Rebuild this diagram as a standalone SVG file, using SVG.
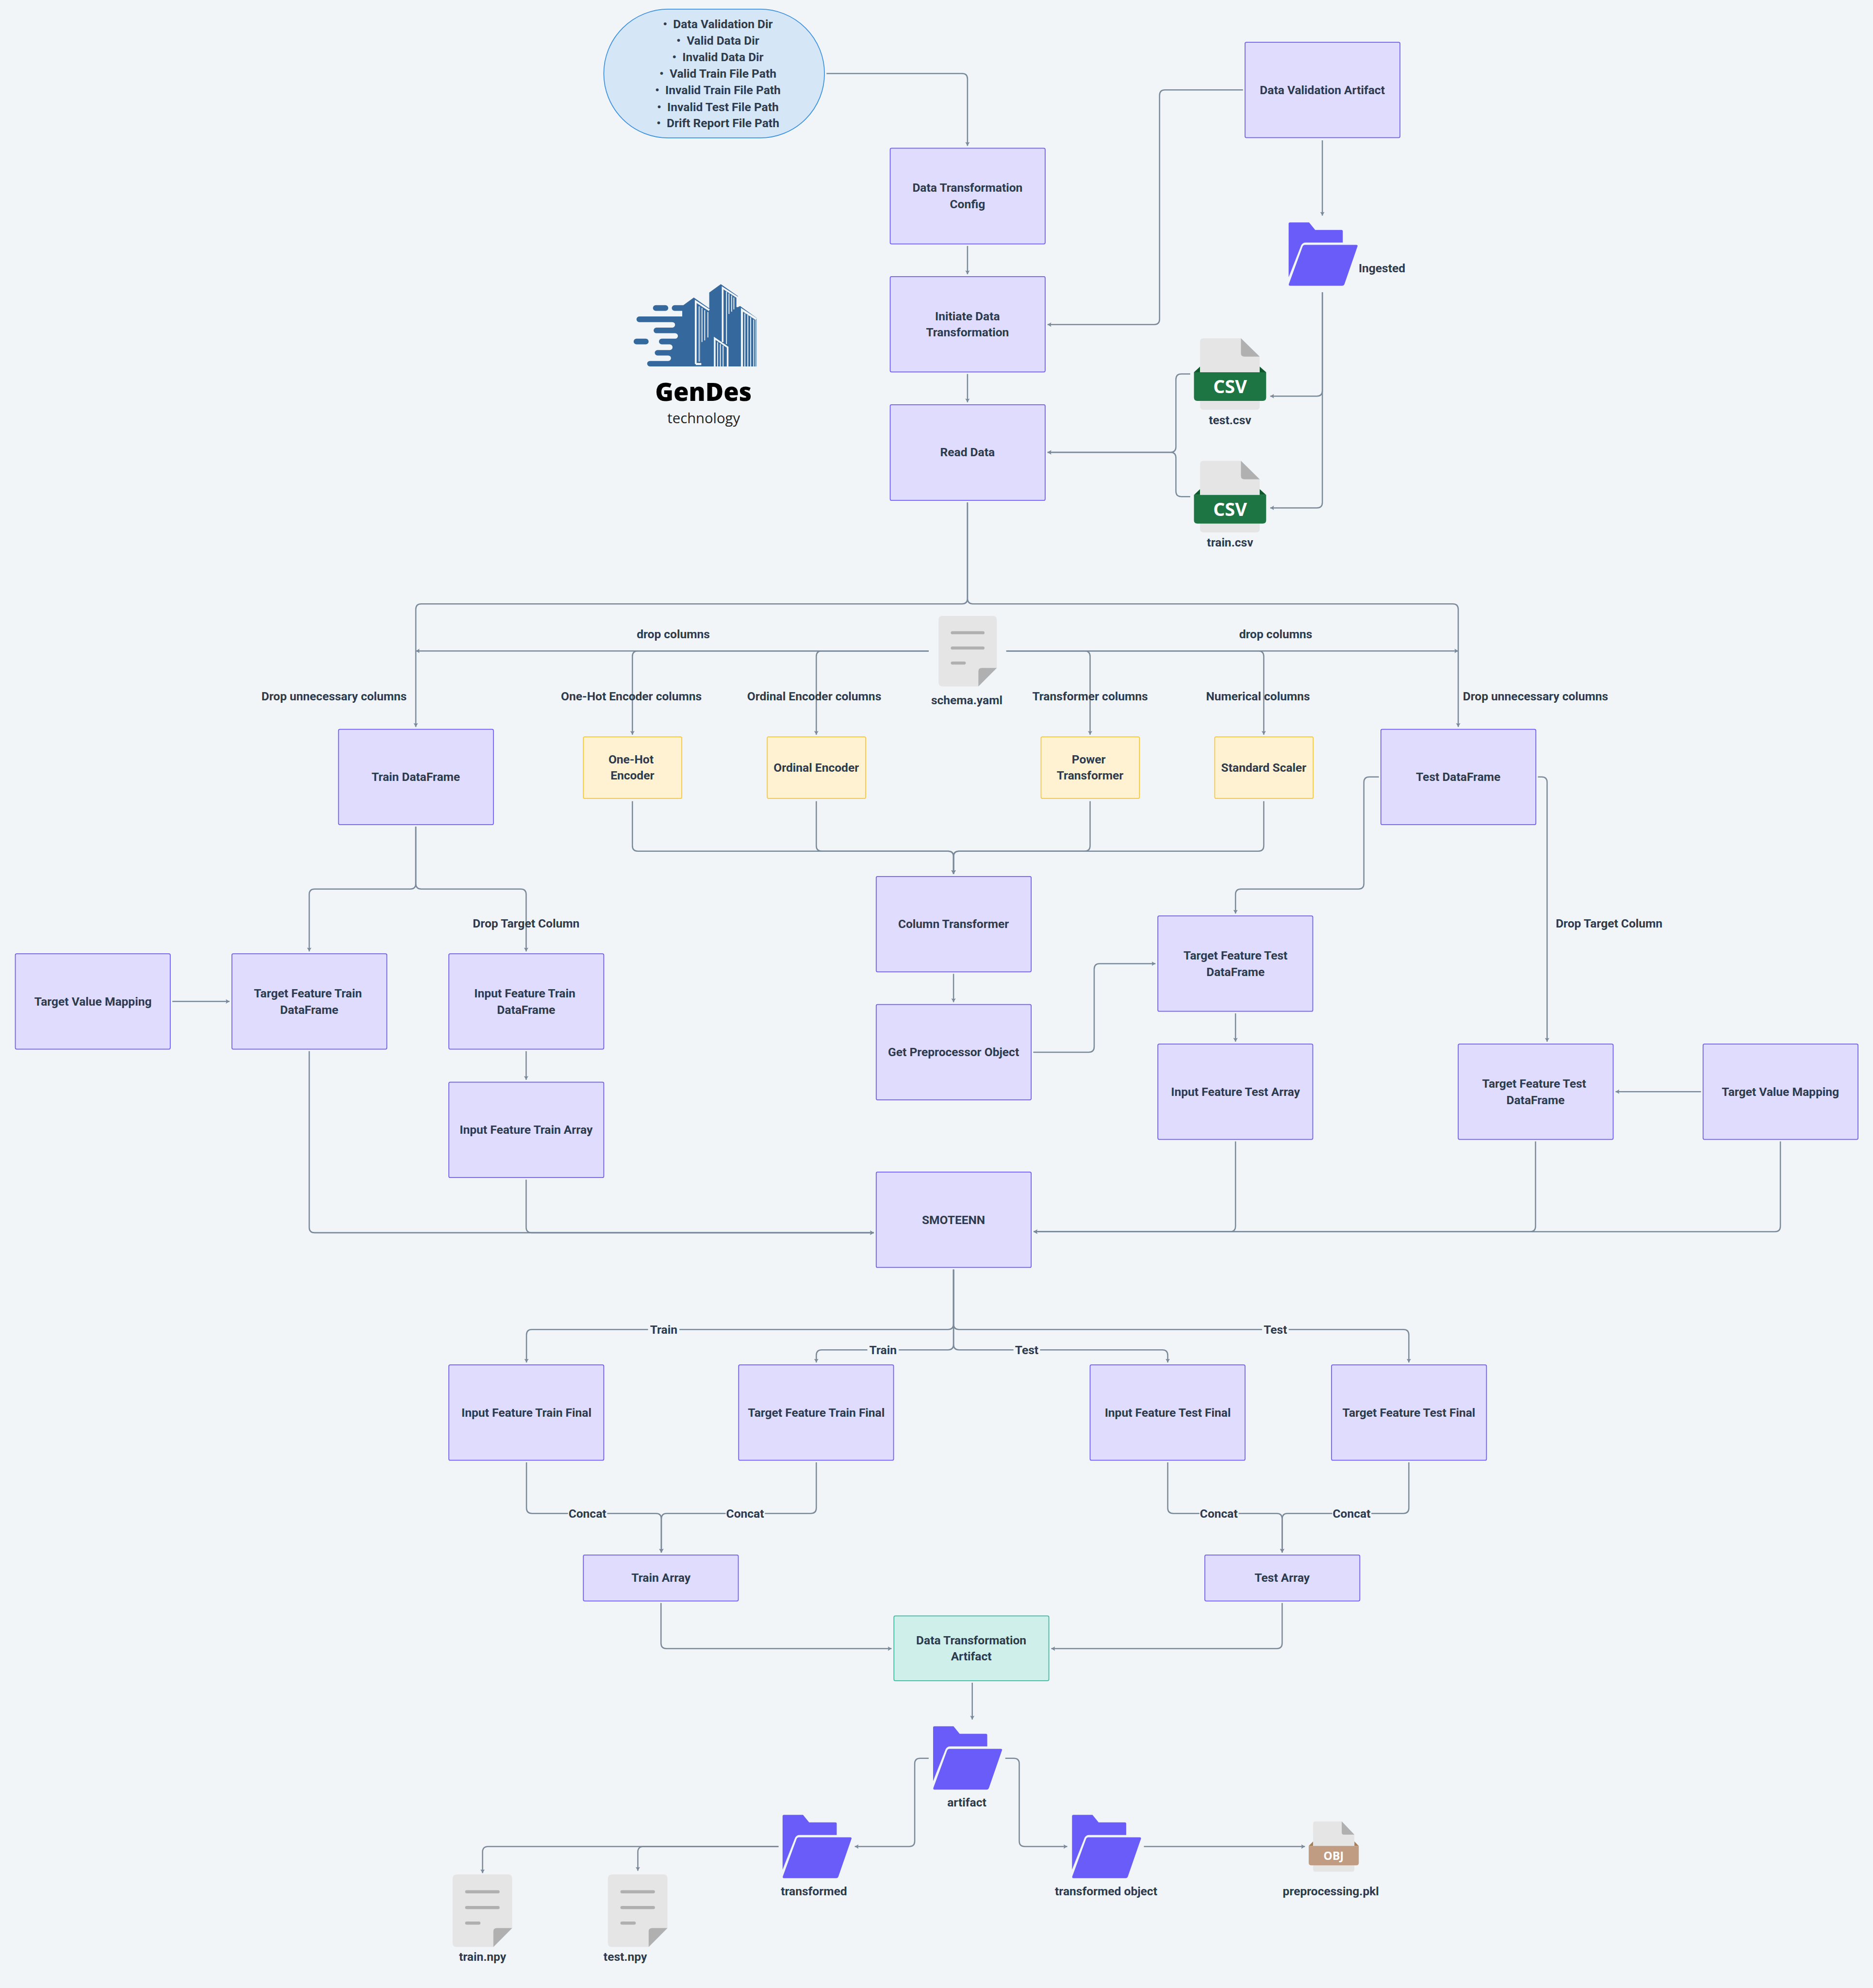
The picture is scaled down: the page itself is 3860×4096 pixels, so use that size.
<svg xmlns="http://www.w3.org/2000/svg" width="3860" height="4096" viewBox="0 0 3860 4096">
<style>
.t{font-family:Roboto,"Liberation Sans",sans-serif;font-weight:700;font-size:35px;fill:#2d3b4d;text-anchor:middle}
.box{fill:#dfdcfd;stroke:#6f5ef6;stroke-width:2.500}
.yel{fill:#fef2d2;stroke:#f9c638;stroke-width:2.500}
.teal{fill:#cff0ea;stroke:#3db8a0;stroke-width:2.500}
.blue{fill:#d5e6f7;stroke:#3d92e0;stroke-width:2.500}
.c{fill:none;stroke:#7a8a9a;stroke-width:3.600}
.ca{marker-end:url(#ah)}
.lb{fill:#f1f5f8}
</style>
<defs>
<marker id="ah" markerUnits="userSpaceOnUse" markerWidth="12" markerHeight="16" refX="11" refY="8" orient="auto"><path d="M0,1.500L11,8L0,14.500L2,8Z" fill="#7a8a9a"/></marker>
<g id="folder">
<path d="M0,4q0,-4 4,-4L60,0L78,22L155,22q4,0 4,4L159,59L50,59q-9,0 -13,8L0,161Z" fill="#6a5cf8"/>
<path d="M48,66L199,66q5,0 3,5L164,181q-2,5 -7,5L4,186q-5,0 -3,-6L41,71q2,-5 7,-5Z" fill="#6a5cf8"/>
</g>
<g id="csv">
<path d="M0,100L18,83V100ZM212,100L193,83V100Z" fill="#0f5a2c"/>
<path d="M28,0H138L193,54V200q0,10 -10,10H28q-10,0 -10,-10V10q0,-10 10,-10Z" fill="#e5e5e5"/>
<path d="M138,0L193,54H148q-10,0 -10,-10Z" fill="#b0b0b0"/>
<path d="M0,100H212V174q0,10 -10,10H10q-10,0 -10,-10Z" fill="#1d7544"/>
</g>
<g id="doc">
<path d="M12,0H159q12,0 12,12V153L117,207H12q-12,0 -12,-12V12q0,-12 12,-12Z" fill="#e5e5e5"/>
<path d="M171,153L117,207V163q0,-10 10,-10Z" fill="#b0b0b0"/>
<rect x="36" y="45" width="99" height="9" rx="4.500" fill="#b0b0b0"/>
<rect x="36" y="90" width="99" height="9" rx="4.500" fill="#b0b0b0"/>
<rect x="36" y="134" width="44" height="9" rx="4.500" fill="#b0b0b0"/>
</g>
</defs>
<rect width="3860" height="4096" fill="#f1f5f8"/>
<g transform="scale(0.70182)">
<g id="connectors">
<path class="c ca" d="M2427,216H2825q16,0 16,16V428"/>
<path class="c ca" d="M2841,722V805"/>
<path class="c ca" d="M2841,1098V1181"/>
<path class="c ca" d="M3650,264H3421q-16,0 -16,16V937q0,16 -16,16H3076"/>
<path class="c ca" d="M3883,412V633"/>
<path class="c ca" d="M3883,858V1147q0,16 -16,16H3730"/>
<path class="c ca" d="M3883,858V1475q0,16 -16,16H3730"/>
<path class="c ca" d="M3495,1098H3469q-16,0 -16,16V1312q0,16 -16,16H3076"/>
<path class="c ca" d="M3495,1458H3469q-16,0 -16,-16V1344q0,-16 -16,-16H3076"/>
<path class="c ca" d="M2841,1475V1757q0,16 -16,16H1237q-16,0 -16,16V2134"/>
<path class="c ca" d="M2841,1475V1757q0,16 16,16H4266q16,0 16,16V2134"/>
<path class="c ca" d="M2727,1911H1221"/>
<path class="c ca" d="M2727,1911H1873q-16,0 -16,16V2157"/>
<path class="c ca" d="M2727,1911H2413q-16,0 -16,16V2157"/>
<path class="c ca" d="M2955,1911H4282"/>
<path class="c ca" d="M2955,1911H3185q16,0 16,16V2157"/>
<path class="c ca" d="M2955,1911H3695q16,0 16,16V2157"/>
<path class="c ca" d="M1857,2352V2483q0,16 16,16H2784q16,0 16,16V2566"/>
<path class="c ca" d="M2397,2352V2483q0,16 16,16H2784q16,0 16,16V2566"/>
<path class="c ca" d="M3201,2352V2483q0,16 -16,16H2816q-16,0 -16,16V2566"/>
<path class="c ca" d="M3711,2352V2483q0,16 -16,16H2816q-16,0 -16,16V2566"/>
<path class="c ca" d="M2800,2859V2942"/>
<path class="c ca" d="M3034,3089H3197q16,0 16,-16V2845q0,-16 16,-16H3393"/>
<path class="c ca" d="M4049,2281H4021q-16,0 -16,16V2594q0,16 -16,16H3644q-16,0 -16,16V2682"/>
<path class="c ca" d="M4516,2281H4527q16,0 16,16V3058"/>
<path class="c ca" d="M3628,2975V3058"/>
<path class="c ca" d="M1221,2427V2594q0,16 -16,16H924q-16,0 -16,16V2793"/>
<path class="c ca" d="M1221,2427V2594q0,16 16,16H1529q16,0 16,16V2793"/>
<path class="c ca" d="M506,2940H674"/>
<path class="c ca" d="M1545,3086V3170"/>
<path class="c ca" d="M908,3086V3603q0,16 16,16H2566"/>
<path class="c ca" d="M1545,3463V3603q0,16 16,16H2566"/>
<path class="c ca" d="M3628,3351V3600q0,16 -16,16H3035"/>
<path class="c ca" d="M4509,3351V3600q0,16 -16,16H3035"/>
<path class="c ca" d="M5228,3351V3600q0,16 -16,16H3035"/>
<path class="c ca" d="M4995,3205H4744"/>
<path class="c ca" d="M2800,3727V3887q0,16 -16,16H1562q-16,0 -16,16V4000"/>
<path class="c ca" d="M2800,3727V3887q0,16 16,16H4121q16,0 16,16V4000"/>
<path class="c ca" d="M2800,3727V3947q0,16 -16,16H2413q-16,0 -16,16V4000"/>
<path class="c ca" d="M2800,3727V3947q0,16 16,16H3413q16,0 16,16V4000"/>
<path class="c ca" d="M1546,4293V4427q0,16 16,16H1926q16,0 16,16V4558"/>
<path class="c ca" d="M2397,4293V4427q0,16 -16,16H1958q-16,0 -16,16V4558"/>
<path class="c ca" d="M3429,4293V4427q0,16 16,16H3749q16,0 16,16V4558"/>
<path class="c ca" d="M4137,4293V4427q0,16 -16,16H3781q-16,0 -16,16V4558"/>
<path class="c ca" d="M1941,4706V4824q0,16 16,16H2618"/>
<path class="c ca" d="M3765,4706V4824q0,16 -16,16H3087"/>
<path class="c ca" d="M2855,4940V5048"/>
<path class="c ca" d="M2727,5162H2702q-16,0 -16,16V5405q0,16 -16,16H2510"/>
<path class="c ca" d="M2952,5162H2977q16,0 16,16V5405q0,16 16,16H3134"/>
<path class="c ca" d="M3359,5421H3832"/>
<path class="c ca" d="M2286,5421H1433q-16,0 -16,16V5499"/>
<path class="c ca" d="M2286,5421H1889q-16,0 -16,16V5492"/>
</g>
<g id="connector-labels">
<text class="t" x="1977" y="1874">drop columns</text>
<text class="t" x="3746" y="1874">drop columns</text>
<text class="t" x="981" y="2056">Drop unnecessary columns</text>
<text class="t" x="4509" y="2056">Drop unnecessary columns</text>
<text class="t" x="1854" y="2056">One-Hot Encoder columns</text>
<text class="t" x="2391" y="2056">Ordinal Encoder columns</text>
<text class="t" x="3201" y="2056">Transformer columns</text>
<text class="t" x="3694" y="2056">Numerical columns</text>
<text class="t" x="1545" y="2723">Drop Target Column</text>
<text class="t" x="4725" y="2723">Drop Target Column</text>
<rect class="lb" x="1903" y="3880" width="92" height="46"/><text class="t" x="1949" y="3915">Train</text>
<rect class="lb" x="3706" y="3880" width="78" height="46"/><text class="t" x="3745" y="3915">Test</text>
<rect class="lb" x="2547" y="3940" width="92" height="46"/><text class="t" x="2593" y="3975">Train</text>
<rect class="lb" x="2976" y="3940" width="78" height="46"/><text class="t" x="3015" y="3975">Test</text>
<rect class="lb" x="1668" y="4420" width="115" height="46"/><text class="t" x="1725" y="4455">Concat</text>
<rect class="lb" x="2131" y="4420" width="115" height="46"/><text class="t" x="2188" y="4455">Concat</text>
<rect class="lb" x="3522" y="4420" width="115" height="46"/><text class="t" x="3579" y="4455">Concat</text>
<rect class="lb" x="3912" y="4420" width="115" height="46"/><text class="t" x="3969" y="4455">Concat</text>
</g>
<g id="n-validation-list"><rect class="blue" x="1773" y="27" width="648" height="378" rx="189"/>
<text class="t" x="2108" y="82">•&#160;&#160;Data Validation Dir</text>
<text class="t" x="2108" y="131">•&#160;&#160;Valid Data Dir</text>
<text class="t" x="2108" y="180">•&#160;&#160;Invalid Data Dir</text>
<text class="t" x="2108" y="228">•&#160;&#160;Valid Train File Path</text>
<text class="t" x="2108" y="277">•&#160;&#160;Invalid Train File Path</text>
<text class="t" x="2108" y="326">•&#160;&#160;Invalid Test File Path</text>
<text class="t" x="2108" y="374">•&#160;&#160;Drift Report File Path</text></g>
<g id="n-dva"><rect class="box" x="3656" y="124" width="455" height="280" rx="4"/><text class="t" x="3883" y="276">Data Validation Artifact</text></g>
<g id="n-dtc"><rect class="box" x="2614" y="435" width="455" height="281" rx="4"/><text class="t" x="2841" y="563">Data Transformation</text><text class="t" x="2841" y="611">Config</text></g>
<g id="n-init"><rect class="box" x="2614" y="812" width="455" height="280" rx="4"/><text class="t" x="2841" y="940">Initiate Data</text><text class="t" x="2841" y="988">Transformation</text></g>
<g id="n-read"><rect class="box" x="2614" y="1188" width="455" height="281" rx="4"/><text class="t" x="2841" y="1340">Read Data</text></g>
<g id="n-ingested"><use href="#folder" x="3784" y="653"/><text class="t" x="4058" y="799">Ingested</text></g>
<g id="n-test-csv"><use href="#csv" x="3506" y="993"/><text x="3612" y="1154" style="font-family:'Open Sans',sans-serif;font-weight:700;font-size:54px;fill:#fff;text-anchor:middle">CSV</text><text class="t" x="3612" y="1245">test.csv</text></g>
<g id="n-train-csv"><use href="#csv" x="3506" y="1353"/><text x="3612" y="1514" style="font-family:'Open Sans',sans-serif;font-weight:700;font-size:54px;fill:#fff;text-anchor:middle">CSV</text><text class="t" x="3612" y="1605">train.csv</text></g>
<g id="logo" transform="translate(1800,780) scale(.33333)">
<g fill="#35689c"><rect x="352" y="348" width="135" height="50" rx="25"/><rect x="182" y="643" width="132" height="50" rx="25"/>
<path d="M610,447H232a25,25 0 0 0 0,50H523a24,24 0 0 1 0,48H383a25,25 0 0 0 0,50H548a24,24 0 0 1 0,48H430a25,25 0 0 0 0,50H500a25,25 0 0 1 0,50H392a24,24 0 0 0 0,48H487a24,24 0 0 1 0,48H325a24,24 0 0 0 0,48H1265V460L1120,355L1100,365V268L950,163L848,237V375L712,280L620,348H543a25,25 0 0 0 0,50H610Z"/></g>
<g fill="none" stroke="#f1f5f8" stroke-width="16"><path d="M729,866V314L848,392"/><path d="M729,866H778" stroke-width="18"/><path d="M966,672V195L1095,278V365" stroke-width="15"/><path d="M1136,887V388L1262,470" stroke-width="18"/><path d="M896,887V640L1010,718V887" stroke-width="15"/>
<path d="M1258,470V887" stroke-width="6"/>
<g stroke-width="8"><path d="M760,358V845" stroke="#a8c0d8" stroke-width="14"/><path d="M784,372V672"/><path d="M808,392V658"/><path d="M836,408V632"/><path d="M1000,228V690"/><path d="M1022,245V425"/><path d="M1045,262V405"/><path d="M1065,280V385"/><path d="M1162,420V887"/><path d="M1188,435V887"/><path d="M1213,455V887"/><path d="M1240,475V887"/><path d="M922,675V887"/><path d="M946,690V887"/><path d="M970,705V887"/></g></g>
<text x="797" y="1190" style="font-family:'Open Sans',sans-serif;font-weight:800;font-size:218px;fill:#000;text-anchor:middle">GenDes</text>
<text x="799" y="1388" style="font-family:'Open Sans',sans-serif;font-weight:400;font-size:125px;fill:#222;text-anchor:middle">technology</text>
</g>
<g id="n-schema"><use href="#doc" x="2756" y="1808"/><text class="t" x="2839" y="2068">schema.yaml</text></g>
<g id="n-train-df"><rect class="box" x="994" y="2141" width="455" height="280" rx="4"/><text class="t" x="1221" y="2293">Train DataFrame</text></g>
<g id="n-onehot"><rect class="yel" x="1713" y="2163" width="289" height="181" rx="4"/><text class="t" x="1853" y="2241">One-Hot</text><text class="t" x="1857" y="2289">Encoder</text></g>
<g id="n-ordinal"><rect class="yel" x="2253" y="2163" width="289" height="181" rx="4"/><text class="t" x="2397" y="2265">Ordinal Encoder</text></g>
<g id="n-power"><rect class="yel" x="3057" y="2163" width="289" height="181" rx="4"/><text class="t" x="3197" y="2241">Power</text><text class="t" x="3201" y="2289">Transformer</text></g>
<g id="n-standard"><rect class="yel" x="3567" y="2163" width="289" height="181" rx="4"/><text class="t" x="3711" y="2265">Standard Scaler</text></g>
<g id="n-test-df"><rect class="box" x="4055" y="2141" width="455" height="280" rx="4"/><text class="t" x="4282" y="2293">Test DataFrame</text></g>
<g id="n-ct"><rect class="box" x="2573" y="2573" width="455" height="280" rx="4"/><text class="t" x="2800" y="2725">Column Transformer</text></g>
<g id="n-gp"><rect class="box" x="2573" y="2949" width="455" height="280" rx="4"/><text class="t" x="2800" y="3101">Get Preprocessor Object</text></g>
<g id="n-tfte-df"><rect class="box" x="3400" y="2689" width="455" height="280" rx="4"/><text class="t" x="3628" y="2817">Target Feature Test</text><text class="t" x="3628" y="2865">DataFrame</text></g>
<g id="n-ifte-arr"><rect class="box" x="3400" y="3065" width="455" height="280" rx="4"/><text class="t" x="3628" y="3217">Input Feature Test Array</text></g>
<g id="n-tfte-df2"><rect class="box" x="4282" y="3065" width="455" height="280" rx="4"/><text class="t" x="4505" y="3193">Target Feature Test</text><text class="t" x="4509" y="3241">DataFrame</text></g>
<g id="n-tvm2"><rect class="box" x="5001" y="3065" width="455" height="280" rx="4"/><text class="t" x="5228" y="3217">Target Value Mapping</text></g>
<g id="n-tvm1"><rect class="box" x="45" y="2800" width="455" height="280" rx="4"/><text class="t" x="273" y="2952">Target Value Mapping</text></g>
<g id="n-tftr-df"><rect class="box" x="681" y="2800" width="455" height="280" rx="4"/><text class="t" x="904" y="2928">Target Feature Train</text><text class="t" x="908" y="2976">DataFrame</text></g>
<g id="n-iftr-df"><rect class="box" x="1318" y="2800" width="455" height="280" rx="4"/><text class="t" x="1541" y="2928">Input Feature Train</text><text class="t" x="1545" y="2976">DataFrame</text></g>
<g id="n-iftr-arr"><rect class="box" x="1318" y="3177" width="455" height="280" rx="4"/><text class="t" x="1545" y="3329">Input Feature Train Array</text></g>
<g id="n-smote"><rect class="box" x="2573" y="3441" width="455" height="280" rx="4"/><text class="t" x="2800" y="3593">SMOTEENN</text></g>
<g id="n-iftr-f"><rect class="box" x="1318" y="4007" width="455" height="280" rx="4"/><text class="t" x="1546" y="4159">Input Feature Train Final</text></g>
<g id="n-tftr-f"><rect class="box" x="2169" y="4007" width="455" height="280" rx="4"/><text class="t" x="2397" y="4159">Target Feature Train Final</text></g>
<g id="n-ifte-f"><rect class="box" x="3201" y="4007" width="455" height="280" rx="4"/><text class="t" x="3429" y="4159">Input Feature Test Final</text></g>
<g id="n-tfte-f"><rect class="box" x="3910" y="4007" width="455" height="280" rx="4"/><text class="t" x="4137" y="4159">Target Feature Test Final</text></g>
<g id="n-train-arr"><rect class="box" x="1713" y="4565" width="455" height="135" rx="4"/><text class="t" x="1941" y="4644">Train Array</text></g>
<g id="n-test-arr"><rect class="box" x="3538" y="4565" width="455" height="135" rx="4"/><text class="t" x="3765" y="4644">Test Array</text></g>
<g id="n-dta"><rect class="teal" x="2625" y="4744" width="455" height="190" rx="4"/><text class="t" x="2852" y="4827">Data Transformation</text><text class="t" x="2852" y="4875">Artifact</text></g>
<g id="n-artifact"><use href="#folder" x="2740" y="5068"/><text class="t" x="2839" y="5304">artifact</text></g>
<g id="n-transformed"><use href="#folder" x="2298" y="5328"/><text class="t" x="2390" y="5564">transformed</text></g>
<g id="n-trans-obj"><use href="#folder" x="3148" y="5328"/><text class="t" x="3248" y="5564">transformed object</text></g>
<g id="n-pkl"><path d="M3843,5419L3856,5406V5419ZM3990,5419L3977,5406V5419Z" fill="#a57f5a"/><path d="M3863,5347H3940L3977,5386V5488q0,7 -7,7H3863q-7,0 -7,-7V5354q0,-7 7,-7Z" fill="#e5e5e5"/><path d="M3940,5347L3977,5386H3946q-6,0 -6,-6Z" fill="#b0b0b0"/><path d="M3843,5419H3990V5469q0,7 -7,7H3850q-7,0 -7,-7Z" fill="#c09c82"/><text x="3916" y="5460" style="font-family:'Open Sans',sans-serif;font-weight:700;font-size:33px;fill:#fff;text-anchor:middle">OBJ</text><text class="t" x="3908" y="5564">preprocessing.pkl</text></g>
<g id="n-train-npy"><use href="#doc" transform="translate(1329,5503) scale(1.0235,1.029)"/><text class="t" x="1417" y="5757">train.npy</text></g>
<g id="n-test-npy"><use href="#doc" transform="translate(1785,5503) scale(1.0235,1.029)"/><text class="t" x="1836" y="5757">test.npy</text></g>
</g>
</svg>
